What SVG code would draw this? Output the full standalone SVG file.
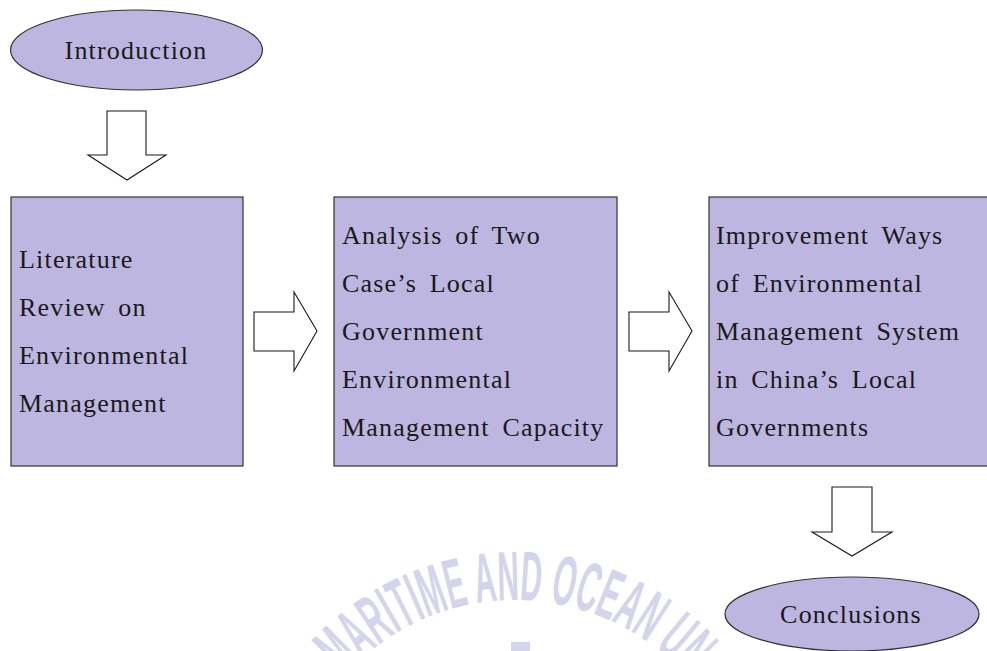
<svg xmlns="http://www.w3.org/2000/svg" width="987" height="651" viewBox="0 0 987 651">
  <style>
    .shape { fill: #bcb6e0; stroke: #333333; stroke-width: 1.2; }
    .arrow { fill: #ffffff; stroke: #1a1a1a; stroke-width: 1.1; stroke-linejoin: miter; }
    .label { font-family: "Liberation Serif", "Times New Roman", serif; font-size: 26px; fill: #1a1a1a; letter-spacing: 1.2px; word-spacing: 5px; }
    .center { text-anchor: middle; }
    .mark { font-family: "Liberation Sans", Arial, sans-serif; font-size: 70px; font-weight: bold; fill: #d4d5ea; }
  </style>
  <defs>
    <path id="markArc" d="M 285 830 A 230 230 0 0 1 745 830"/>
  </defs>
  <rect width="987" height="651" fill="#ffffff"/>

  <!-- faint seal text at the bottom -->
  <g id="watermark">
    <text class="mark" text-anchor="middle"><textPath href="#markArc" startOffset="50%" textLength="385" lengthAdjust="spacingAndGlyphs">MARITIME AND OCEAN UN</textPath></text>
    <rect x="511" y="642" width="19" height="9" fill="#d4d5ea"/>
  </g>

  <g id="connectors">
    <!-- Introduction -> Literature Review -->
    <polygon class="arrow" points="107,111 146,111 146,155 166,155 127,180 88,155 107,155"/>
    <!-- Literature Review -> Analysis -->
    <polygon class="arrow" points="254,312 294,312 294,292 317,331 294,371 294,351 254,351"/>
    <!-- Analysis -> Improvement Ways -->
    <polygon class="arrow" points="629,312 669,312 669,292 692,331 669,371 669,351 629,351"/>
    <!-- Improvement Ways -> Conclusions -->
    <polygon class="arrow" points="832,487 872,487 872,532 892,532 852,556 812,532 832,532"/>
  </g>

  <g id="introduction">
    <ellipse class="shape" cx="136.5" cy="50" rx="126" ry="40"/>
    <text class="label center" x="136" y="59">Introduction</text>
  </g>

  <g id="literature-review">
    <rect class="shape" x="11" y="197" width="232" height="269"/>
    <text class="label" x="19" y="268">Literature</text>
    <text class="label" x="19" y="316">Review on</text>
    <text class="label" x="19" y="364">Environmental</text>
    <text class="label" x="19" y="412">Management</text>
  </g>

  <g id="case-analysis">
    <rect class="shape" x="334" y="197" width="283" height="269"/>
    <text class="label" x="342" y="244">Analysis of Two</text>
    <text class="label" x="342" y="292">Case’s Local</text>
    <text class="label" x="342" y="340">Government</text>
    <text class="label" x="342" y="388">Environmental</text>
    <text class="label" x="342" y="436">Management Capacity</text>
  </g>

  <g id="improvement-ways">
    <rect class="shape" x="709" y="197" width="290" height="269"/>
    <text class="label" x="716" y="244">Improvement Ways</text>
    <text class="label" x="716" y="292">of Environmental</text>
    <text class="label" x="716" y="340">Management System</text>
    <text class="label" x="716" y="388">in China’s Local</text>
    <text class="label" x="716" y="436">Governments</text>
  </g>

  <g id="conclusions">
    <ellipse class="shape" cx="852" cy="614" rx="127" ry="37"/>
    <text class="label center" x="851" y="623">Conclusions</text>
  </g>
</svg>
